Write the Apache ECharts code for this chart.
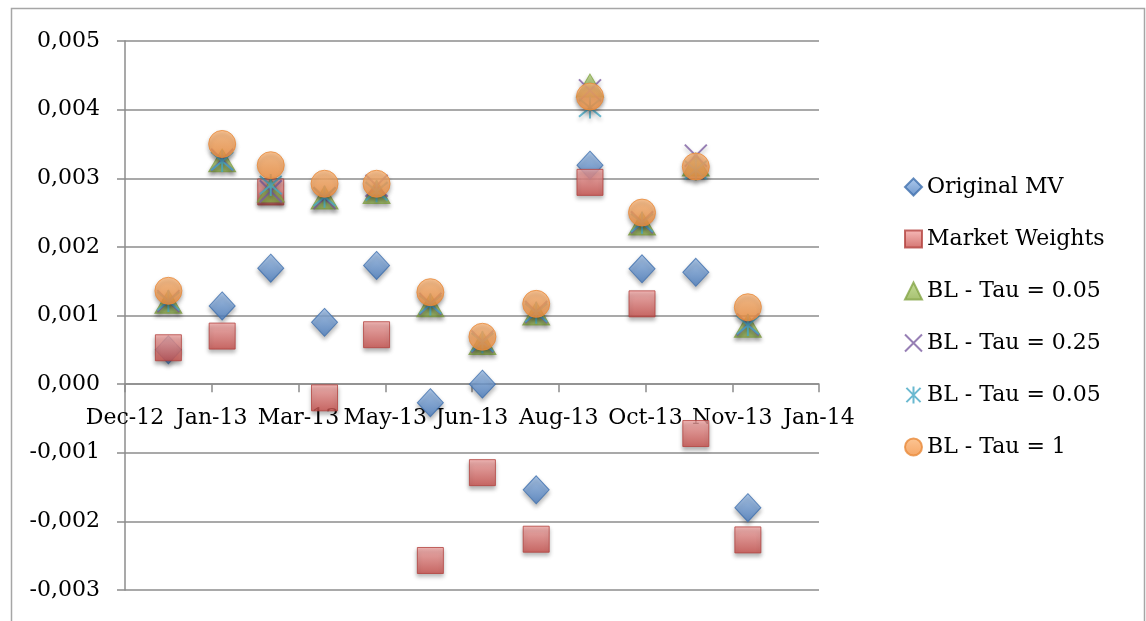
<!DOCTYPE html>
<html>
<head>
<meta charset="utf-8">
<script src="https://cdn.jsdelivr.net/npm/echarts@6/dist/echarts.min.js"></script>
<style>
  html, body { margin: 0; padding: 0; background: #fff; }
  #chart { width: 1146px; height: 621px; }
</style>
</head>
<body>
<div id="chart"></div>
<script>
// Monthly observation dates (first of each month, 2013)
const dates = ['2013-01-01','2013-02-01','2013-03-01','2013-04-01','2013-05-01','2013-06-01',
               '2013-07-01','2013-08-01','2013-09-01','2013-10-01','2013-11-01','2013-12-01'];

// Legend labels, one per series (two series share the same label)
const seriesNames = ['Original MV','Market Weights','BL - Tau = 0.05','BL - Tau = 0.25','BL - Tau = 0.05','BL - Tau = 1'];
const seriesKeys  = ['mv','mkt','tau005','tau025','tau005b','tau1'];

const originalMV    = [0.00050, 0.00114, 0.00169, 0.00090, 0.00173, -0.00027, 0.00000, -0.00154, 0.00319, 0.00168, 0.00163, -0.00180];
const marketWeights = [0.00053, 0.00070, 0.00280, -0.00020, 0.00072, -0.00257, -0.00129, -0.00226, 0.00294, 0.00117, -0.00072, -0.00227];
const blTau005      = [0.00120, 0.00326, 0.00282, 0.00272, 0.00280, 0.00115, 0.00060, 0.00103, 0.00435, 0.00234, 0.00320, 0.00085];
const blTau025      = [0.00121, 0.00327, 0.00281, 0.00271, 0.00289, 0.00117, 0.00062, 0.00105, 0.00428, 0.00236, 0.00333, 0.00087];
const blTau005b     = [0.00121, 0.00325, 0.00290, 0.00273, 0.00281, 0.00116, 0.00061, 0.00104, 0.00403, 0.00235, 0.00312, 0.00086];
const blTau1        = [0.00136, 0.00350, 0.00319, 0.00292, 0.00292, 0.00134, 0.00069, 0.00117, 0.00419, 0.00250, 0.00317, 0.00112];

const monthAbbr = ['Jan','Feb','Mar','Apr','May','Jun','Jul','Aug','Sep','Oct','Nov','Dec'];

// Spreadsheet-style day serials for the date axis
const EPOCH = Date.UTC(1899, 11, 30);
const DAY = 86400000;
function toSerial(s) {
  const [y, m, d] = s.split('-').map(Number);
  return Math.round((Date.UTC(y, m - 1, d) - EPOCH) / DAY);
}
function serialLabel(v) {
  const dt = new Date(EPOCH + v * DAY);
  return monthAbbr[dt.getUTCMonth()] + '-' + String(dt.getUTCFullYear() % 100).padStart(2, '0');
}

const xMin = toSerial('2012-12-07');
const xStep = 50;
const xMax = xMin + 8 * xStep;
const yMin = -0.003, yMax = 0.005, yStep = 0.001;

const FONT = '"DejaVu Serif", "Liberation Serif", serif';
const FONT_SIZE = 22;
const GRID = '#8c8c8c';

// Plot area
const PLOT_LEFT = 125, PLOT_TOP = 41, PLOT_RIGHT = 327, PLOT_BOTTOM = 31;
const PLOT_H = 621 - PLOT_TOP - PLOT_BOTTOM;
// The date axis crosses the value axis at zero: a second grid ends exactly there
const ZERO_H = PLOT_H * (yMax - 0) / (yMax - yMin);

function pts(values) {
  return values.map((v, i) => [toSerial(dates[i]), v]);
}

function grad(top, bottom) {
  return new echarts.graphic.LinearGradient(0, 0, 0, 1, [
    { offset: 0, color: top }, { offset: 1, color: bottom }
  ]);
}

const shadow = { shadowBlur: 4, shadowOffsetY: 3, shadowColor: 'rgba(0,0,0,0.35)' };

const X_PATH = 'path://M0,0L10,10M10,0L0,10';
const STAR_PATH = 'path://M0,0L10,10M10,0L0,10M5,-1L5,11';

const series = [
  { data: pts(originalMV), symbol: 'diamond', symbolSize: [26, 28],
    itemStyle: Object.assign({ color: grad('#9dbfe9', '#4a7dc0'), borderColor: '#3f6fae', borderWidth: 1 }, shadow) },
  { data: pts(marketWeights), symbol: 'rect', symbolSize: 26,
    itemStyle: Object.assign({ color: grad('#f4aaa8', '#c9504c'), borderColor: '#b3423f', borderWidth: 1 }, shadow) },
  { data: pts(blTau005), symbol: 'triangle', symbolSize: [27, 23],
    itemStyle: Object.assign({ color: grad('#b7d47f', '#8fb04c'), borderColor: '#85a547', borderWidth: 1 }, shadow) },
  { data: pts(blTau025), symbol: X_PATH, symbolSize: 22,
    itemStyle: Object.assign({ color: 'rgba(0,0,0,0)', borderColor: '#7d5fa2', borderWidth: 2 }, shadow) },
  { data: pts(blTau005b), symbol: STAR_PATH, symbolSize: 22,
    itemStyle: Object.assign({ color: 'rgba(0,0,0,0)', borderColor: '#45a8c4', borderWidth: 2 }, shadow) },
  { data: pts(blTau1), symbol: 'circle', symbolSize: 27,
    itemStyle: Object.assign({ color: grad('#fbb77a', '#f3903f'), borderColor: '#e8893a', borderWidth: 1 }, shadow) }
].map((s, i) => Object.assign({
  type: 'scatter', name: seriesKeys[i], xAxisIndex: 0, yAxisIndex: 0, z: 10, emphasis: { disabled: true }
}, s));

const chart = echarts.init(document.getElementById('chart'), null, { renderer: 'canvas' });

chart.setOption({
  backgroundColor: '#ffffff',
  animation: false,
  graphic: [{
    type: 'rect', left: 9, top: 6, silent: true,
    shape: { width: 1133, height: 700 },
    style: { fill: 'none', stroke: '#a6a6a6', lineWidth: 1.5 }
  }],
  grid: [
    { left: PLOT_LEFT, top: PLOT_TOP, right: PLOT_RIGHT, bottom: PLOT_BOTTOM, containLabel: false, outerBoundsMode: 'none' },
    { left: PLOT_LEFT, top: PLOT_TOP, right: PLOT_RIGHT, height: ZERO_H, containLabel: false, outerBoundsMode: 'none' }
  ],
  xAxis: [
    { gridIndex: 0, type: 'value', min: xMin, max: xMax, interval: xStep, show: false },
    {
      gridIndex: 1, type: 'value', min: xMin, max: xMax, interval: xStep, position: 'bottom', z: 1,
      axisLine: { show: true, onZero: false, lineStyle: { color: GRID, width: 1.5 } },
      axisTick: { show: true, length: 8, inside: false, lineStyle: { color: GRID, width: 1.5 } },
      splitLine: { show: false },
      axisLabel: { color: '#000', fontFamily: FONT, fontSize: FONT_SIZE, margin: 23, formatter: serialLabel, hideOverlap: false }
    }
  ],
  yAxis: [
    {
      gridIndex: 0, type: 'value', min: yMin, max: yMax, interval: yStep,
      axisLine: { show: true, onZero: false, lineStyle: { color: GRID, width: 1.5 } },
      axisTick: { show: true, length: 8, lineStyle: { color: GRID, width: 1.5 } },
      splitLine: { show: true, lineStyle: { color: GRID, width: 1.5 } },
      axisLabel: { color: '#000', fontFamily: FONT, fontSize: FONT_SIZE, margin: 25,
                   formatter: v => v.toFixed(3).replace('.', ',') }
    },
    { gridIndex: 1, type: 'value', min: 0, max: yMax, show: false }
  ],
  legend: {
    orient: 'vertical', left: 899, top: 169,
    itemWidth: 17, itemHeight: 17, itemGap: 26,
    data: seriesKeys.map(k => ({ name: k })),
    formatter: k => seriesNames[seriesKeys.indexOf(k)],
    textStyle: { color: '#000', fontFamily: FONT, fontSize: FONT_SIZE, lineHeight: 26, padding: [0, 0, 0, 0] },
    selectedMode: false
  },
  series: series
});
</script>
</body>
</html>
